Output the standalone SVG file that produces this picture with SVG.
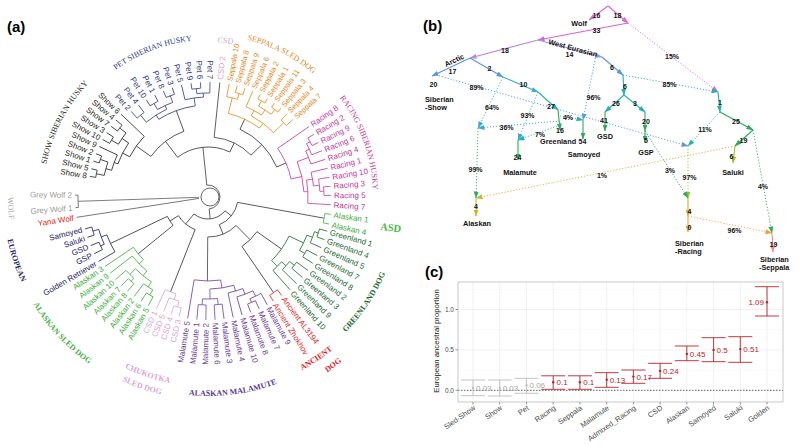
<svg xmlns="http://www.w3.org/2000/svg" xmlns:xlink="http://www.w3.org/1999/xlink" width="800" height="446" viewBox="0 0 800 446">
<style>
text{font-family:"Liberation Sans",Arial,sans-serif}
.tr path,.tr circle{fill:none;stroke-width:.75}
.tr text{stroke:none;font-size:8px}
.tr .s75 text{font-size:7.5px}
.L{text-anchor:end}
.gl{font-family:"Liberation Serif","Times New Roman",serif;stroke:none}
.b{font-weight:bold}
.pl{font-size:15px;font-weight:bold;fill:#000}
.e{fill:none;stroke-width:1.1}
.d{fill:none;stroke-width:.9;stroke-dasharray:1.2 1.8}
.bt{font-size:7px;font-weight:bold;fill:#111;text-anchor:middle}
.bn{font-size:7.3px;font-weight:bold;fill:#111}
.ax{font-size:6.5px;fill:#4d4d4d}
.xl{font-size:7.5px;fill:#4d4d4d;text-anchor:end}
.v{font-size:8px}
</style>
<defs>
<path id="cw165" d="M165 0A165 165 0 1 1 -165 0A165 165 0 1 1 165 0"/>
<path id="cw157" d="M157 0A157 157 0 1 1 -157 0A157 157 0 1 1 157 0"/>
<path id="cw155" d="M155 0A155 155 0 1 1 -155 0A155 155 0 1 1 155 0"/>
<path id="cw162" d="M162 0A162 162 0 1 1 -162 0A162 162 0 1 1 162 0"/>
<path id="ccw193" d="M193 0A193 193 0 1 0 -193 0A193 193 0 1 0 193 0"/>
<path id="ccw197" d="M197 0A197 197 0 1 0 -197 0A197 197 0 1 0 197 0"/>
<path id="ccw212" d="M212 0A212 212 0 1 0 -212 0A212 212 0 1 0 212 0"/>
<path id="ccw199" d="M199 0A199 199 0 1 0 -199 0A199 199 0 1 0 199 0"/>
<path id="ccw190" d="M190 0A190 190 0 1 0 -190 0A190 190 0 1 0 190 0"/>
<path id="ccw203" d="M203 0A203 203 0 1 0 -203 0A203 203 0 1 0 203 0"/>
<path id="ccw205" d="M205 0A205 205 0 1 0 -205 0A205 205 0 1 0 205 0"/>
<path id="ccw200" d="M200 0A200 200 0 1 0 -200 0A200 200 0 1 0 200 0"/>
<marker id="a-pk" viewBox="0 0 7 5" refX="6.5" refY="2.5" markerWidth="7" markerHeight="5" markerUnits="userSpaceOnUse" orient="auto"><path d="M0 0L7 2.5L0 5z" fill="#d966d6"/></marker>
<marker id="a-lv" viewBox="0 0 7 5" refX="6.5" refY="2.5" markerWidth="7" markerHeight="5" markerUnits="userSpaceOnUse" orient="auto"><path d="M0 0L7 2.5L0 5z" fill="#b889e6"/></marker>
<marker id="a-lb" viewBox="0 0 7 5" refX="6.5" refY="2.5" markerWidth="7" markerHeight="5" markerUnits="userSpaceOnUse" orient="auto"><path d="M0 0L7 2.5L0 5z" fill="#8f9ae6"/></marker>
<marker id="a-bl" viewBox="0 0 7 5" refX="6.5" refY="2.5" markerWidth="7" markerHeight="5" markerUnits="userSpaceOnUse" orient="auto"><path d="M0 0L7 2.5L0 5z" fill="#5c95e0"/></marker>
<marker id="a-cy" viewBox="0 0 7 5" refX="6.5" refY="2.5" markerWidth="7" markerHeight="5" markerUnits="userSpaceOnUse" orient="auto"><path d="M0 0L7 2.5L0 5z" fill="#3aa9d6"/></marker>
<marker id="a-tl" viewBox="0 0 7 5" refX="6.5" refY="2.5" markerWidth="7" markerHeight="5" markerUnits="userSpaceOnUse" orient="auto"><path d="M0 0L7 2.5L0 5z" fill="#22b3a6"/></marker>
<marker id="a-gr" viewBox="0 0 7 5" refX="6.5" refY="2.5" markerWidth="7" markerHeight="5" markerUnits="userSpaceOnUse" orient="auto"><path d="M0 0L7 2.5L0 5z" fill="#2eab5a"/></marker>
<marker id="a-yg" viewBox="0 0 7 5" refX="6.5" refY="2.5" markerWidth="7" markerHeight="5" markerUnits="userSpaceOnUse" orient="auto"><path d="M0 0L7 2.5L0 5z" fill="#a3bd2a"/></marker>
<marker id="a-ye" viewBox="0 0 7 5" refX="6.5" refY="2.5" markerWidth="7" markerHeight="5" markerUnits="userSpaceOnUse" orient="auto"><path d="M0 0L7 2.5L0 5z" fill="#d8b21c"/></marker>
<marker id="a-or" viewBox="0 0 7 5" refX="6.5" refY="2.5" markerWidth="7" markerHeight="5" markerUnits="userSpaceOnUse" orient="auto"><path d="M0 0L7 2.5L0 5z" fill="#eba33c"/></marker>
<marker id="a-sa" viewBox="0 0 7 5" refX="6.5" refY="2.5" markerWidth="7" markerHeight="5" markerUnits="userSpaceOnUse" orient="auto"><path d="M0 0L7 2.5L0 5z" fill="#f08a8a"/></marker>
<marker id="a-ol" viewBox="0 0 7 5" refX="6.5" refY="2.5" markerWidth="7" markerHeight="5" markerUnits="userSpaceOnUse" orient="auto"><path d="M0 0L7 2.5L0 5z" fill="#c9b23a"/></marker>
</defs>
<rect width="800" height="446" fill="#fff"/>
<text class="pl" x="7" y="32">(a)</text>
<text class="pl" x="423" y="31">(b)</text>
<text class="pl" x="425" y="277">(c)</text>

<g id="panel-a" class="tr" transform="translate(208 197)">
<g id="backbone" stroke="#333">
<circle r="9" cx="2"/>
<circle r="70" pathLength="360" stroke-dasharray="34.45 999" transform="rotate(-144.6)"/>
<path transform="rotate(-127.4)" d="M50 0H70"/>
<circle r="75" pathLength="360" stroke-dasharray="41.15 999" transform="rotate(-64.75)"/>
<path transform="rotate(-44.2)" d="M60 0H75"/>
<circle r="60" pathLength="360" stroke-dasharray="39.9 999" transform="rotate(-84.1)"/>
<path transform="rotate(-64.15)" d="M50 0H60"/>
<circle r="50" pathLength="360" stroke-dasharray="63.25 999" transform="rotate(-127.4)"/>
<path transform="rotate(-95.8)" d="M12 0H50"/>
<path transform="rotate(-144.6)" d="M70 0H88"/>
<path transform="rotate(-110.15)" d="M70 0H92"/>
<path transform="rotate(-64.75)" d="M75 0H86"/>
<path transform="rotate(-23.6)" d="M75 0H85"/>
<path transform="rotate(-84.1)" d="M60 0H115"/>
<path transform="rotate(10.35)" d="M30 0H118"/>
<path transform="rotate(35.3)" d="M60 0H90"/>
<path transform="rotate(55.55)" d="M60 0H116"/>
<circle r="60" pathLength="360" stroke-dasharray="20.25 999" transform="rotate(35.3)"/>
<path transform="rotate(45.4)" d="M40 0H60"/>
<path transform="rotate(90.4)" d="M40 0H84"/>
<circle r="40" pathLength="360" stroke-dasharray="45 999" transform="rotate(45.4)"/>
<path transform="rotate(67.9)" d="M30 0H40"/>
<circle r="30" pathLength="360" stroke-dasharray="57.55 999" transform="rotate(10.35)"/>
<path transform="rotate(39.1)" d="M22 0H30"/>
<path transform="rotate(111.55)" d="M35 0H102"/>
<path transform="rotate(140.9)" d="M45 0H90"/>
<path transform="rotate(154.5)" d="M45 0H108"/>
<circle r="45" pathLength="360" stroke-dasharray="13.6 999" transform="rotate(140.9)"/>
<path transform="rotate(147.7)" d="M35 0H45"/>
<circle r="35" pathLength="360" stroke-dasharray="36.15 999" transform="rotate(111.55)"/>
<path transform="rotate(129.6)" d="M22 0H35"/>
<circle r="22" pathLength="360" stroke-dasharray="90.5 999" transform="rotate(39.1)"/>
<path transform="rotate(84.35)" d="M12 0H22"/>
<circle r="12" pathLength="360" stroke-dasharray="180.15 999" transform="rotate(-95.8)"/>
</g>

<g id="clade-wolf" stroke="#555" fill="#9a9a9a">
<path transform="rotate(178.1)" d="M9 0H130"/>
<path transform="rotate(171.2)" d="M9 0H133"/>
<circle r="130" pathLength="360" stroke-dasharray="5.4 999" transform="rotate(175.4)"/>
<path transform="rotate(180.8)" d="M130 0H133"/>
<path transform="rotate(175.4)" d="M130 0H133"/>
<text class="L" transform="rotate(0.8)" x="-136" y="2.8">Grey Wolf 2</text>
<text class="L" transform="rotate(-4.6)" x="-136" y="2.8">Grey Wolf 1</text>
<text class="L" transform="rotate(-8.8)" x="-136" y="2.8" fill="#e2231a">Yana Wolf</text>
</g>

<g id="clade-show" stroke="#231f20" fill="#231f20">
<path transform="rotate(-136.4)" d="M88 0H120"/>
<path transform="rotate(-140.1)" d="M112 0H120"/>
<path transform="rotate(-143.9)" d="M112 0H120"/>
<path transform="rotate(-147.6)" d="M112 0H120"/>
<path transform="rotate(-151.4)" d="M112 0H120"/>
<path transform="rotate(-155.1)" d="M100 0H120"/>
<path transform="rotate(-158.9)" d="M114 0H120"/>
<path transform="rotate(-162.6)" d="M114 0H120"/>
<path transform="rotate(-166.4)" d="M114 0H120"/>
<path transform="rotate(-170.1)" d="M114 0H120"/>
<path transform="rotate(-142)" d="M104 0H112"/>
<path transform="rotate(-149.5)" d="M104 0H112"/>
<path transform="rotate(-160.75)" d="M106 0H114"/>
<path transform="rotate(-168.25)" d="M106 0H114"/>
<path transform="rotate(-145.75)" d="M96 0H104"/>
<path transform="rotate(-164.5)" d="M100 0H106"/>
<path transform="rotate(-159.8)" d="M96 0H100"/>
<path transform="rotate(-152.8)" d="M88 0H96"/>
<circle r="112" pathLength="360" stroke-dasharray="3.8 999" transform="rotate(-143.9)"/>
<circle r="112" pathLength="360" stroke-dasharray="3.8 999" transform="rotate(-151.4)"/>
<circle r="114" pathLength="360" stroke-dasharray="3.7 999" transform="rotate(-162.6)"/>
<circle r="114" pathLength="360" stroke-dasharray="3.7 999" transform="rotate(-170.1)"/>
<circle r="104" pathLength="360" stroke-dasharray="7.5 999" transform="rotate(-149.5)"/>
<circle r="106" pathLength="360" stroke-dasharray="7.5 999" transform="rotate(-168.25)"/>
<circle r="100" pathLength="360" stroke-dasharray="9.4 999" transform="rotate(-164.5)"/>
<circle r="96" pathLength="360" stroke-dasharray="14.05 999" transform="rotate(-159.8)"/>
<circle r="88" pathLength="360" stroke-dasharray="16.4 999" transform="rotate(-152.8)"/>
<text class="L" transform="rotate(43.6)" x="-123" y="2.8">Show 6</text>
<text class="L" transform="rotate(39.9)" x="-123" y="2.8">Show 4</text>
<text class="L" transform="rotate(36.1)" x="-123" y="2.8">Show 7</text>
<text class="L" transform="rotate(32.4)" x="-123" y="2.8">Show 3</text>
<text class="L" transform="rotate(28.6)" x="-123" y="2.8">Show 10</text>
<text class="L" transform="rotate(24.9)" x="-123" y="2.8">Show 9</text>
<text class="L" transform="rotate(21.1)" x="-123" y="2.8">Show 2</text>
<text class="L" transform="rotate(17.4)" x="-123" y="2.8">Show 1</text>
<text class="L" transform="rotate(13.6)" x="-123" y="2.8">Show 5</text>
<text class="L" transform="rotate(9.9)" x="-123" y="2.8">Show 8</text>
</g>

<g id="clade-pet" stroke="#2e3a87" fill="#2e3a87">
<path transform="rotate(-131.9)" d="M106 0H115"/>
<path transform="rotate(-127.1)" d="M106 0H115"/>
<path transform="rotate(-122.4)" d="M108 0H115"/>
<path transform="rotate(-117.6)" d="M108 0H115"/>
<path transform="rotate(-112.8)" d="M108 0H115"/>
<path transform="rotate(-108.1)" d="M108 0H115"/>
<path transform="rotate(-103.3)" d="M100 0H115"/>
<path transform="rotate(-98.5)" d="M109 0H115"/>
<path transform="rotate(-93.8)" d="M109 0H115"/>
<path transform="rotate(-89)" d="M104 0H115"/>
<path transform="rotate(-129.5)" d="M97 0H106"/>
<path transform="rotate(-120)" d="M101 0H108"/>
<path transform="rotate(-110.45)" d="M101 0H108"/>
<path transform="rotate(-96.15)" d="M104 0H109"/>
<path transform="rotate(-92.6)" d="M100 0H104"/>
<path transform="rotate(-97.95)" d="M92 0H100"/>
<path transform="rotate(-115.2)" d="M97 0H101"/>
<path transform="rotate(-122.35)" d="M92 0H97"/>
<circle r="106" pathLength="360" stroke-dasharray="4.8 999" transform="rotate(-131.9)"/>
<circle r="108" pathLength="360" stroke-dasharray="4.8 999" transform="rotate(-122.4)"/>
<circle r="108" pathLength="360" stroke-dasharray="4.7 999" transform="rotate(-112.8)"/>
<circle r="109" pathLength="360" stroke-dasharray="4.7 999" transform="rotate(-98.5)"/>
<circle r="104" pathLength="360" stroke-dasharray="7.15 999" transform="rotate(-96.15)"/>
<circle r="100" pathLength="360" stroke-dasharray="10.7 999" transform="rotate(-103.3)"/>
<circle r="101" pathLength="360" stroke-dasharray="9.55 999" transform="rotate(-120)"/>
<circle r="97" pathLength="360" stroke-dasharray="14.3 999" transform="rotate(-129.5)"/>
<circle r="92" pathLength="360" stroke-dasharray="24.4 999" transform="rotate(-122.35)"/>
<text class="L" transform="rotate(48.1)" x="-118" y="2.8">Pet 2</text>
<text class="L" transform="rotate(52.9)" x="-118" y="2.8">Pet 4</text>
<text class="L" transform="rotate(57.6)" x="-118" y="2.8">Pet 10</text>
<text class="L" transform="rotate(62.4)" x="-118" y="2.8">Pet 1</text>
<text class="L" transform="rotate(67.2)" x="-118" y="2.8">Pet 8</text>
<text class="L" transform="rotate(71.9)" x="-118" y="2.8">Pet 3</text>
<text class="L" transform="rotate(76.7)" x="-118" y="2.8">Pet 5</text>
<text class="L" transform="rotate(81.5)" x="-118" y="2.8">Pet 9</text>
<text class="L" transform="rotate(86.2)" x="-118" y="2.8">Pet 6</text>
<text class="L" transform="rotate(91)" x="-118" y="2.8">Pet 7</text>
</g>

<g id="clade-csd2" fill="#d7a6d4">
<text transform="rotate(-84.1)" x="118" y="2.8">CSD 2</text>
</g>

<g id="clade-seppala" class="s75" stroke="#e18b1c" fill="#e18b1c">
<path transform="rotate(-79.4)" d="M102 0H115"/>
<path transform="rotate(-75.3)" d="M108 0H115"/>
<path transform="rotate(-71.2)" d="M108 0H115"/>
<path transform="rotate(-67.1)" d="M98 0H115"/>
<path transform="rotate(-63)" d="M110 0H115"/>
<path transform="rotate(-58.8)" d="M110 0H115"/>
<path transform="rotate(-54.7)" d="M110 0H115"/>
<path transform="rotate(-50.6)" d="M110 0H115"/>
<path transform="rotate(-46.5)" d="M106 0H115"/>
<path transform="rotate(-42.4)" d="M106 0H115"/>
<path transform="rotate(-73.25)" d="M102 0H108"/>
<path transform="rotate(-76.3)" d="M86 0H102"/>
<path transform="rotate(-60.9)" d="M104 0H110"/>
<path transform="rotate(-52.65)" d="M104 0H110"/>
<path transform="rotate(-56.8)" d="M98 0H104"/>
<path transform="rotate(-61.95)" d="M92 0H98"/>
<path transform="rotate(-44.45)" d="M92 0H106"/>
<path transform="rotate(-53.2)" d="M86 0H92"/>
<circle r="108" pathLength="360" stroke-dasharray="4.1 999" transform="rotate(-75.3)"/>
<circle r="102" pathLength="360" stroke-dasharray="6.15 999" transform="rotate(-79.4)"/>
<circle r="110" pathLength="360" stroke-dasharray="4.2 999" transform="rotate(-63)"/>
<circle r="110" pathLength="360" stroke-dasharray="4.1 999" transform="rotate(-54.7)"/>
<circle r="104" pathLength="360" stroke-dasharray="8.25 999" transform="rotate(-60.9)"/>
<circle r="98" pathLength="360" stroke-dasharray="10.3 999" transform="rotate(-67.1)"/>
<circle r="106" pathLength="360" stroke-dasharray="4.1 999" transform="rotate(-46.5)"/>
<circle r="92" pathLength="360" stroke-dasharray="17.5 999" transform="rotate(-61.95)"/>
<circle r="86" pathLength="360" stroke-dasharray="23.1 999" transform="rotate(-76.3)"/>
<text transform="rotate(-79.4)" x="118" y="2.6">Seppala 10</text>
<text transform="rotate(-75.3)" x="118" y="2.6">Seppala 8</text>
<text transform="rotate(-71.2)" x="118" y="2.6">Seppala 9</text>
<text transform="rotate(-67.1)" x="118" y="2.6">Seppala 6</text>
<text transform="rotate(-63)" x="118" y="2.6">Seppala 2</text>
<text transform="rotate(-58.8)" x="118" y="2.6">Seppala 1</text>
<text transform="rotate(-54.7)" x="118" y="2.6">Seppala 11</text>
<text transform="rotate(-50.6)" x="118" y="2.6">Seppala 3</text>
<text transform="rotate(-46.5)" x="118" y="2.6">Seppala 4</text>
<text transform="rotate(-42.4)" x="118" y="2.6">Seppala 7</text>
</g>

<g id="clade-racing" stroke="#c0399a" fill="#c0399a">
<path transform="rotate(-34.9)" d="M85 0H123"/>
<path transform="rotate(-30.6)" d="M116 0H123"/>
<path transform="rotate(-26.3)" d="M116 0H123"/>
<path transform="rotate(-22.1)" d="M112 0H123"/>
<path transform="rotate(-17.8)" d="M108 0H123"/>
<path transform="rotate(-13.5)" d="M106 0H123"/>
<path transform="rotate(-9.2)" d="M112 0H123"/>
<path transform="rotate(-5)" d="M116 0H123"/>
<path transform="rotate(-0.7)" d="M116 0H123"/>
<path transform="rotate(3.6)" d="M100 0H123"/>
<path transform="rotate(-28.45)" d="M112 0H116"/>
<path transform="rotate(-25.3)" d="M108 0H112"/>
<path transform="rotate(-21.55)" d="M96 0H108"/>
<path transform="rotate(-2.85)" d="M112 0H116"/>
<path transform="rotate(-6)" d="M106 0H112"/>
<path transform="rotate(-9.75)" d="M100 0H106"/>
<path transform="rotate(-3.1)" d="M96 0H100"/>
<path transform="rotate(-12.3)" d="M85 0H96"/>
<circle r="116" pathLength="360" stroke-dasharray="4.3 999" transform="rotate(-30.6)"/>
<circle r="112" pathLength="360" stroke-dasharray="6.35 999" transform="rotate(-28.45)"/>
<circle r="108" pathLength="360" stroke-dasharray="7.5 999" transform="rotate(-25.3)"/>
<circle r="116" pathLength="360" stroke-dasharray="4.3 999" transform="rotate(-5)"/>
<circle r="112" pathLength="360" stroke-dasharray="6.35 999" transform="rotate(-9.2)"/>
<circle r="106" pathLength="360" stroke-dasharray="7.5 999" transform="rotate(-13.5)"/>
<circle r="100" pathLength="360" stroke-dasharray="13.35 999" transform="rotate(-9.75)"/>
<circle r="96" pathLength="360" stroke-dasharray="18.45 999" transform="rotate(-21.55)"/>
<circle r="85" pathLength="360" stroke-dasharray="22.6 999" transform="rotate(-34.9)"/>
<text transform="rotate(-34.9)" x="126" y="2.8">Racing 8</text>
<text transform="rotate(-30.6)" x="126" y="2.8">Racing 2</text>
<text transform="rotate(-26.3)" x="126" y="2.8">Racing 9</text>
<text transform="rotate(-22.1)" x="126" y="2.8">Racing 6</text>
<text transform="rotate(-17.8)" x="126" y="2.8">Racing 4</text>
<text transform="rotate(-13.5)" x="126" y="2.8">Racing 1</text>
<text transform="rotate(-9.2)" x="126" y="2.8">Racing 10</text>
<text transform="rotate(-5)" x="126" y="2.8">Racing 3</text>
<text transform="rotate(-0.7)" x="126" y="2.8">Racing 5</text>
<text transform="rotate(3.6)" x="126" y="2.8">Racing 7</text>
</g>

<g id="clade-asd" stroke="#3cae3c" fill="#3cae3c">
<path transform="rotate(8.1)" d="M118 0H124"/>
<path transform="rotate(12.6)" d="M118 0H124"/>
<circle r="118" pathLength="360" stroke-dasharray="4.5 999" transform="rotate(8.1)"/>
<text transform="rotate(8.1)" x="127" y="2.8">Alaskan 1</text>
<text transform="rotate(12.6)" x="127" y="2.8">Alaskan 4</text>
</g>

<g id="clade-greenland" stroke="#1c6b31" fill="#1c6b31">
<path transform="rotate(16)" d="M116 0H124"/>
<path transform="rotate(20.1)" d="M116 0H124"/>
<path transform="rotate(24.1)" d="M112 0H124"/>
<path transform="rotate(28.2)" d="M112 0H124"/>
<path transform="rotate(32.3)" d="M112 0H124"/>
<path transform="rotate(36.3)" d="M110 0H124"/>
<path transform="rotate(40.4)" d="M110 0H124"/>
<path transform="rotate(44.4)" d="M104 0H124"/>
<path transform="rotate(48.5)" d="M98 0H124"/>
<path transform="rotate(18.05)" d="M112 0H116"/>
<path transform="rotate(21.1)" d="M106 0H112"/>
<path transform="rotate(30.25)" d="M106 0H112"/>
<path transform="rotate(25.7)" d="M90 0H106"/>
<path transform="rotate(38.35)" d="M104 0H110"/>
<path transform="rotate(41.4)" d="M98 0H104"/>
<path transform="rotate(44.95)" d="M90 0H98"/>
<circle r="116" pathLength="360" stroke-dasharray="4.1 999" transform="rotate(16)"/>
<circle r="112" pathLength="360" stroke-dasharray="6.05 999" transform="rotate(18.05)"/>
<circle r="112" pathLength="360" stroke-dasharray="4.1 999" transform="rotate(28.2)"/>
<circle r="106" pathLength="360" stroke-dasharray="9.15 999" transform="rotate(21.1)"/>
<circle r="110" pathLength="360" stroke-dasharray="4.1 999" transform="rotate(36.3)"/>
<circle r="104" pathLength="360" stroke-dasharray="6.05 999" transform="rotate(38.35)"/>
<circle r="98" pathLength="360" stroke-dasharray="7.1 999" transform="rotate(41.4)"/>
<circle r="90" pathLength="360" stroke-dasharray="19.25 999" transform="rotate(25.7)"/>
<text transform="rotate(16)" x="127" y="2.8">Greenland 1</text>
<text transform="rotate(20.1)" x="127" y="2.8">Greenland 4</text>
<text transform="rotate(24.1)" x="127" y="2.8">Greenland 5</text>
<text transform="rotate(28.2)" x="127" y="2.8">Greenland 7</text>
<text transform="rotate(32.3)" x="127" y="2.8">Greenland 8</text>
<text transform="rotate(36.3)" x="127" y="2.8">Greenland 2</text>
<text transform="rotate(40.4)" x="127" y="2.8">Greenland 3</text>
<text transform="rotate(44.4)" x="127" y="2.8">Greenland 9</text>
<text transform="rotate(48.5)" x="127" y="2.8">Greenland 10</text>
</g>

<g id="clade-ancient" stroke="#e2231a" fill="#e2231a">
<path transform="rotate(53.2)" d="M116 0H123"/>
<path transform="rotate(57.9)" d="M116 0H123"/>
<circle r="116" pathLength="360" stroke-dasharray="4.7 999" transform="rotate(53.2)"/>
<text transform="rotate(53.2)" x="126" y="2.8">Ancient AL3194</text>
<text transform="rotate(57.9)" x="126" y="2.8">Ancient Zhokhov</text>
</g>

<g id="clade-malamute" stroke="#6a3d9a" fill="#6a3d9a">
<path transform="rotate(99.5)" d="M84 0H123"/>
<path transform="rotate(95.2)" d="M108 0H123"/>
<path transform="rotate(91)" d="M108 0H123"/>
<path transform="rotate(86.7)" d="M108 0H123"/>
<path transform="rotate(82.5)" d="M108 0H123"/>
<path transform="rotate(78.2)" d="M98 0H123"/>
<path transform="rotate(73.9)" d="M104 0H123"/>
<path transform="rotate(69.7)" d="M114 0H123"/>
<path transform="rotate(65.4)" d="M114 0H123"/>
<path transform="rotate(61.2)" d="M110 0H123"/>
<path transform="rotate(93.1)" d="M102 0H108"/>
<path transform="rotate(84.6)" d="M102 0H108"/>
<path transform="rotate(88.85)" d="M92 0H102"/>
<path transform="rotate(67.55)" d="M110 0H114"/>
<path transform="rotate(64.4)" d="M104 0H110"/>
<path transform="rotate(69.15)" d="M98 0H104"/>
<path transform="rotate(73.7)" d="M92 0H98"/>
<path transform="rotate(81.3)" d="M84 0H92"/>
<circle r="108" pathLength="360" stroke-dasharray="4.2 999" transform="rotate(91)"/>
<circle r="108" pathLength="360" stroke-dasharray="4.2 999" transform="rotate(82.5)"/>
<circle r="102" pathLength="360" stroke-dasharray="8.5 999" transform="rotate(84.6)"/>
<circle r="114" pathLength="360" stroke-dasharray="4.3 999" transform="rotate(65.4)"/>
<circle r="110" pathLength="360" stroke-dasharray="6.35 999" transform="rotate(61.2)"/>
<circle r="104" pathLength="360" stroke-dasharray="9.5 999" transform="rotate(64.4)"/>
<circle r="98" pathLength="360" stroke-dasharray="9.05 999" transform="rotate(69.15)"/>
<circle r="92" pathLength="360" stroke-dasharray="15.15 999" transform="rotate(73.7)"/>
<circle r="84" pathLength="360" stroke-dasharray="18.2 999" transform="rotate(81.3)"/>
<text class="L" transform="rotate(-80.5)" x="-126" y="2.8">Malamute 5</text>
<text class="L" transform="rotate(-84.8)" x="-126" y="2.8">Malamute 1</text>
<text class="L" transform="rotate(-89)" x="-126" y="2.8">Malamute 2</text>
<text transform="rotate(86.7)" x="126" y="2.8">Malamute 6</text>
<text transform="rotate(82.5)" x="126" y="2.8">Malamute 3</text>
<text transform="rotate(78.2)" x="126" y="2.8">Malamute 4</text>
<text transform="rotate(73.9)" x="126" y="2.8">Malamute 10</text>
<text transform="rotate(69.7)" x="126" y="2.8">Malamute 8</text>
<text transform="rotate(65.4)" x="126" y="2.8">Malamute 7</text>
<text transform="rotate(61.2)" x="126" y="2.8">Malamute 9</text>
</g>

<g id="clade-csd" stroke="#d7a6d4" fill="#d7a6d4">
<path transform="rotate(114.8)" d="M102 0H123"/>
<path transform="rotate(111.1)" d="M108 0H123"/>
<path transform="rotate(107.4)" d="M114 0H123"/>
<path transform="rotate(103.6)" d="M114 0H123"/>
<path transform="rotate(105.5)" d="M108 0H114"/>
<path transform="rotate(108.3)" d="M102 0H108"/>
<circle r="114" pathLength="360" stroke-dasharray="3.8 999" transform="rotate(103.6)"/>
<circle r="108" pathLength="360" stroke-dasharray="5.6 999" transform="rotate(105.5)"/>
<circle r="102" pathLength="360" stroke-dasharray="6.5 999" transform="rotate(108.3)"/>
<text class="L" transform="rotate(-65.2)" x="-126" y="2.8">CSD 1</text>
<text class="L" transform="rotate(-68.9)" x="-126" y="2.8">CSD 5</text>
<text class="L" transform="rotate(-72.6)" x="-126" y="2.8">CSD 4</text>
<text class="L" transform="rotate(-76.4)" x="-126" y="2.8">CSD 3</text>
</g>

<g id="clade-alaskan" stroke="#3cae3c" fill="#3cae3c">
<path transform="rotate(146)" d="M90 0H124"/>
<path transform="rotate(142.1)" d="M96 0H124"/>
<path transform="rotate(138.2)" d="M110 0H124"/>
<path transform="rotate(134.3)" d="M114 0H124"/>
<path transform="rotate(130.5)" d="M114 0H124"/>
<path transform="rotate(126.6)" d="M108 0H124"/>
<path transform="rotate(122.7)" d="M114 0H124"/>
<path transform="rotate(118.8)" d="M114 0H124"/>
<path transform="rotate(132.4)" d="M110 0H114"/>
<path transform="rotate(135.3)" d="M102 0H110"/>
<path transform="rotate(120.75)" d="M108 0H114"/>
<path transform="rotate(123.7)" d="M102 0H108"/>
<path transform="rotate(129.5)" d="M96 0H102"/>
<path transform="rotate(135.8)" d="M90 0H96"/>
<circle r="114" pathLength="360" stroke-dasharray="3.8 999" transform="rotate(130.5)"/>
<circle r="110" pathLength="360" stroke-dasharray="5.8 999" transform="rotate(132.4)"/>
<circle r="114" pathLength="360" stroke-dasharray="3.9 999" transform="rotate(118.8)"/>
<circle r="108" pathLength="360" stroke-dasharray="5.85 999" transform="rotate(120.75)"/>
<circle r="102" pathLength="360" stroke-dasharray="11.6 999" transform="rotate(123.7)"/>
<circle r="96" pathLength="360" stroke-dasharray="12.6 999" transform="rotate(129.5)"/>
<circle r="90" pathLength="360" stroke-dasharray="10.2 999" transform="rotate(135.8)"/>
<text class="L" transform="rotate(-34)" x="-127" y="2.8">Alaskan 3</text>
<text class="L" transform="rotate(-37.9)" x="-127" y="2.8">Alaskan 9</text>
<text class="L" transform="rotate(-41.8)" x="-127" y="2.8">Alaskan 10</text>
<text class="L" transform="rotate(-45.7)" x="-127" y="2.8">Alaskan 7</text>
<text class="L" transform="rotate(-49.5)" x="-127" y="2.8">Alaskan 8</text>
<text class="L" transform="rotate(-53.4)" x="-127" y="2.8">Alaskan 2</text>
<text class="L" transform="rotate(-57.3)" x="-127" y="2.8">Alaskan 6</text>
<text class="L" transform="rotate(-61.2)" x="-127" y="2.8">Alaskan 5</text>
</g>

<g id="clade-european" stroke="#1e2266" fill="#1e2266">
<path transform="rotate(165.5)" d="M120 0H127"/>
<path transform="rotate(161.5)" d="M120 0H127"/>
<path transform="rotate(157.5)" d="M118 0H127"/>
<path transform="rotate(153.5)" d="M118 0H127"/>
<path transform="rotate(149.5)" d="M108 0H127"/>
<path transform="rotate(163.5)" d="M114 0H120"/>
<path transform="rotate(155.5)" d="M114 0H118"/>
<path transform="rotate(159.5)" d="M108 0H114"/>
<circle r="120" pathLength="360" stroke-dasharray="4 999" transform="rotate(161.5)"/>
<circle r="118" pathLength="360" stroke-dasharray="4 999" transform="rotate(153.5)"/>
<circle r="114" pathLength="360" stroke-dasharray="8 999" transform="rotate(155.5)"/>
<circle r="108" pathLength="360" stroke-dasharray="10 999" transform="rotate(149.5)"/>
<text class="L" transform="rotate(-30.5)" x="-130" y="2.8">Golden Retriever</text>
<text class="L" transform="rotate(-26.5)" x="-130" y="2.8">GSP</text>
<text class="L" transform="rotate(-22.5)" x="-130" y="2.8">GSD</text>
<text class="L" transform="rotate(-18.5)" x="-130" y="2.8">Saluki</text>
<text class="L" transform="rotate(-14.5)" x="-130" y="2.8">Samoyed</text>
</g>

<g id="group-labels">
<text class="gl" transform="rotate(-168.5)" font-size="10" fill="#231f20"><textPath href="#cw165" xlink:href="#cw165">SHOW SIBERIAN HUSKY</textPath></text>
<text class="gl" transform="rotate(-126)" font-size="10" fill="#2e3a87"><textPath href="#cw157" xlink:href="#cw157">PET SIBERIAN HUSKY</textPath></text>
<text class="gl" transform="rotate(-86.5)" font-size="10" fill="#d7a6d4"><textPath href="#cw155" xlink:href="#cw155">CSD</textPath></text>
<text class="gl" transform="rotate(-76)" font-size="10" fill="#e18b1c"><textPath href="#cw162" xlink:href="#cw162">SEPPALA SLED DOG</textPath></text>
<text class="gl" transform="rotate(-37)" font-size="9.8" fill="#c0399a"><textPath href="#cw165" xlink:href="#cw165">RACING SIBERIAN HUSKY</textPath></text>
<text class="gl b" transform="rotate(44.5)" font-size="10.5" fill="#1c6b31"><textPath href="#ccw193" xlink:href="#ccw193">GREENLAND DOG</textPath></text>
<text class="gl b" transform="rotate(61.5)" font-size="10" fill="#e2231a"><textPath href="#ccw197" xlink:href="#ccw197">ANCIENT</textPath></text>
<text class="gl b" transform="rotate(55.8)" font-size="10" fill="#e2231a"><textPath href="#ccw212" xlink:href="#ccw212">DOG</textPath></text>
<text class="gl b" transform="rotate(95.5)" font-size="10.2" fill="#5b3a8e"><textPath href="#ccw199" xlink:href="#ccw199">ALASKAN MALAMUTE</textPath></text>
<text class="gl b" transform="rotate(116)" font-size="10" fill="#d8a6d6"><textPath href="#ccw190" xlink:href="#ccw190">CHUKOTKA</textPath></text>
<text class="gl b" transform="rotate(115)" font-size="10" fill="#d8a6d6"><textPath href="#ccw203" xlink:href="#ccw203">SLED DOG</textPath></text>
<text class="gl b" transform="rotate(148.5)" font-size="10.5" fill="#47ae47"><textPath href="#ccw205" xlink:href="#ccw205">ALASKAN SLED DOG</textPath></text>
<text class="gl b" transform="rotate(168)" font-size="10.3" fill="#1e2266"><textPath href="#ccw205" xlink:href="#ccw205">EUROPEAN</textPath></text>
<text class="gl" transform="rotate(180)" font-size="10.6" fill="#a8a8a8"><textPath href="#ccw200" xlink:href="#ccw200">WOLF</textPath></text>
</g>
</g>
<text class="gl b" x="380" y="230" font-size="10.5" fill="#4cb748" transform="rotate(6 380 230)">ASD</text>

<g id="panel-b">
<g id="connectors">
<path class="e" stroke="#d966d6" marker-end="url(#a-pk)" d="M608 6L589 20"/>
<path class="e" stroke="#d966d6" marker-end="url(#a-pk)" d="M608 6L628 23"/>
<path class="e" stroke="#d966d6" marker-end="url(#a-pk)" d="M628 23L538 40"/>
<path class="e" stroke="#b889e6" marker-end="url(#a-lv)" d="M538 40L470 58"/>
<path class="e" stroke="#8f9ae6" marker-end="url(#a-lb)" d="M538 40L602 57"/>
<path class="e" stroke="#5c95e0" marker-end="url(#a-bl)" d="M470 58L432 76"/>
<path class="e" stroke="#5c95e0" marker-end="url(#a-bl)" d="M470 58L503 77"/>
<path class="e" stroke="#3aa9d6" marker-end="url(#a-cy)" d="M503 77L538 92"/>
<path class="e" stroke="#22b3a6" marker-end="url(#a-tl)" d="M538 92L558 110"/>
<path class="e" stroke="#2eab5a" marker-end="url(#a-gr)" d="M558 110L560 130"/>
<path class="e" stroke="#5c95e0" marker-end="url(#a-bl)" d="M602 57L623 75"/>
<path class="e" stroke="#22b3a6" marker-end="url(#a-tl)" d="M623 75L624 95"/>
<path class="e" stroke="#22b3a6" marker-end="url(#a-tl)" d="M624 95L605 112"/>
<path class="e" stroke="#2eab5a" marker-end="url(#a-gr)" d="M605 112L605 131"/>
<path class="e" stroke="#22b3a6" marker-end="url(#a-tl)" d="M624 95L645 112"/>
<path class="e" stroke="#2eab5a" marker-end="url(#a-gr)" d="M645 112L645 131"/>
<path class="e" stroke="#2eab5a" marker-end="url(#a-gr)" d="M645 131L645 142"/>
<path class="e" stroke="#2eab5a" marker-end="url(#a-gr)" d="M583 120L583 139"/>
<path class="e" stroke="#2eab5a" marker-end="url(#a-gr)" d="M518 140L518 160"/>
<path class="e" stroke="#d8b21c" marker-end="url(#a-ye)" d="M476 198L476 216"/>
<path class="e" stroke="#22b3a6" marker-end="url(#a-tl)" d="M718 92L720 112"/>
<path class="e" stroke="#2eab5a" marker-end="url(#a-gr)" d="M720 112L753 130"/>
<path class="e" stroke="#2eab5a" marker-end="url(#a-gr)" d="M753 130L735 146"/>
<path class="e" stroke="#a3bd2a" marker-end="url(#a-yg)" d="M735 146L733 163"/>
<path class="e" stroke="#d8b21c" marker-end="url(#a-ye)" d="M688 198L688 216"/>
<path class="e" stroke="#eba33c" marker-end="url(#a-or)" d="M688 216L688 232"/>
<path class="e" stroke="#f08a8a" marker-end="url(#a-sa)" d="M772 233L773 252"/>
<path class="d" stroke="#d966d6" marker-end="url(#a-pk)" d="M628 23L718 92"/>
<path class="d" stroke="#22b3a6" marker-end="url(#a-tl)" d="M623 75L718 92"/>
<path class="d" stroke="#3aa9d6" marker-end="url(#a-bl)" d="M596 55L583 120"/>
<path class="d" stroke="#22b3a6" marker-end="url(#a-tl)" d="M560 116L583 120"/>
<path class="d" stroke="#3aa9d6" marker-end="url(#a-cy)" d="M538 92L518 140"/>
<path class="d" stroke="#22b3a6" marker-end="url(#a-tl)" d="M560 125L518 140"/>
<path class="d" stroke="#3aa9d6" marker-end="url(#a-cy)" d="M503 77L478 128"/>
<path class="d" stroke="#3aa9d6" marker-end="url(#a-cy)" d="M560 121L478 128"/>
<path class="d" stroke="#2eab5a" marker-end="url(#a-gr)" d="M478 128L476 198"/>
<path class="d" stroke="#c9b23a" marker-end="url(#a-ol)" d="M735 146L476 198"/>
<path class="d" stroke="#4a9ad8" marker-end="url(#a-bl)" d="M436 75L688 146"/>
<path class="d" stroke="#22b3a6" marker-end="url(#a-tl)" d="M720 112L688 146"/>
<path class="d" stroke="#a3bd2a" marker-end="url(#a-yg)" d="M688 146L688 198"/>
<path class="d" stroke="#2eab5a" marker-end="url(#a-gr)" d="M645 131L688 198"/>
<path class="d" stroke="#eba33c" marker-end="url(#a-or)" d="M688 216L772 233"/>
<path class="d" stroke="#2eab5a" marker-end="url(#a-gr)" d="M753 130L772 233"/>
</g>
<g id="b-labels">
<text class="bn" x="587" y="25.5" text-anchor="end" font-size="7.5">Wolf</text>
<text class="bt" x="596.5" y="17.5">16</text>
<text class="bt" x="617.5" y="17.5">18</text>
<text class="bt" x="596.5" y="32.5">33</text>
<text class="bt" x="505" y="53">18</text>
<text class="bn" transform="translate(548 44) rotate(15)" font-size="8">West Eurasian</text>
<text class="bt" x="569.5" y="56.5">14</text>
<text class="bn" transform="translate(446 67) rotate(-25)" font-size="8">Arctic</text>
<text class="bt" x="452.5" y="73.5">17</text>
<text class="bt" x="433.5" y="86.5">20</text>
<text class="bn" x="425" y="102">Siberian</text>
<text class="bn" x="425" y="110">-Show</text>
<text class="bt" x="489.5" y="71">2</text>
<text class="bt" x="523.5" y="87">10</text>
<text class="bt" x="551" y="108.5">27</text>
<text class="bt" x="560" y="133">16</text>
<text class="bn" x="540" y="143.5">Greenland</text>
<text class="bt" x="612" y="69.5">6</text>
<text class="bt" x="625" y="89">6</text>
<text class="bt" x="616" y="106">26</text>
<text class="bt" x="635" y="106">3</text>
<text class="bt" x="604" y="123">41</text>
<text class="bn" x="605" y="138.5" text-anchor="middle">GSD</text>
<text class="bt" x="646" y="124">20</text>
<text class="bt" x="646" y="143">5</text>
<text class="bn" x="646" y="155" text-anchor="middle">GSP</text>
<text class="bt" x="582.5" y="143.5">54</text>
<text class="bn" x="584" y="156.5" text-anchor="middle">Samoyed</text>
<text class="bt" x="593.5" y="99.5">96%</text>
<text class="bt" x="568" y="120">4%</text>
<text class="bt" x="527.5" y="117.5">93%</text>
<text class="bt" x="540" y="137">7%</text>
<text class="bt" x="492" y="110">64%</text>
<text class="bt" x="506.5" y="130">36%</text>
<text class="bt" x="476.5" y="90">89%</text>
<text class="bt" x="517.5" y="160">24</text>
<text class="bn" x="520" y="174.5" text-anchor="middle">Malamute</text>
<text class="bt" x="475.5" y="172">99%</text>
<text class="bt" x="476" y="208.5">4</text>
<text class="bn" x="477" y="225.5" text-anchor="middle">Alaskan</text>
<text class="bt" x="602" y="177.5">1%</text>
<text class="bt" x="672" y="59">15%</text>
<text class="bt" x="669.5" y="87">85%</text>
<text class="bt" x="720" y="104.5">1</text>
<text class="bt" x="736" y="123.5">25</text>
<text class="bt" x="705" y="132">11%</text>
<text class="bt" x="743.5" y="143">19</text>
<text class="bt" x="731.5" y="159">6</text>
<text class="bn" x="733" y="175" text-anchor="middle">Saluki</text>
<text class="bt" x="670" y="172.5">3%</text>
<text class="bt" x="689.5" y="180">97%</text>
<text class="bt" x="689.5" y="213.5">4</text>
<text class="bt" x="689.5" y="230">0</text>
<text class="bn" x="675" y="246">Siberian</text>
<text class="bn" x="675" y="254">-Racing</text>
<text class="bt" x="734.5" y="232.5">96%</text>
<text class="bt" x="763" y="188.5">4%</text>
<text class="bt" x="773.5" y="247">19</text>
<text class="bn" x="760" y="262">Siberian</text>
<text class="bn" x="759" y="270">-Seppala</text>
</g>
</g>

<g id="panel-c">
<rect x="458" y="282" width="325" height="120" fill="#fff"/>
<g stroke="#f3f3f3" stroke-width=".4">
<path d="M458 370.1H783M458 329.7H783M458 289.3H783"/>
</g>
<g stroke="#e8e8e8" stroke-width=".6">
<path d="M458 390.3H783M458 349.9H783M458 309.5H783"/>
<path d="M473 282V402M499.7 282V402M526.5 282V402M553.2 282V402M579.9 282V402M606.7 282V402M633.4 282V402M660.1 282V402M686.8 282V402M713.6 282V402M740.3 282V402M767 282V402"/>
</g>
<path d="M458 390.3H783" stroke="#333" stroke-width=".7" stroke-dasharray="1.5 1.5"/>
<rect x="458" y="282" width="325" height="120" fill="none" stroke="#b3b3b3" stroke-width=".7"/>
<g stroke="#555" stroke-width=".6">
<path d="M455.5 390.3H458M455.5 349.9H458M455.5 309.5H458"/>
<path d="M473 402V404.5M499.7 402V404.5M526.5 402V404.5M553.2 402V404.5M579.9 402V404.5M606.7 402V404.5M633.4 402V404.5M660.1 402V404.5M686.8 402V404.5M713.6 402V404.5M740.3 402V404.5M767 402V404.5"/>
</g>
<text class="ax" x="454" y="392.5" text-anchor="end">0.0</text>
<text class="ax" x="454" y="352.1" text-anchor="end">0.5</text>
<text class="ax" x="454" y="311.7" text-anchor="end">1.0</text>
<text x="439" y="341" font-size="7.7" fill="#222" text-anchor="middle" transform="rotate(-90 439 341)">European ancestral proportion</text>
<g id="c-xlabels">
<text class="xl" transform="translate(476 409) rotate(-35)">Sled-Show</text>
<text class="xl" transform="translate(502.7 409) rotate(-35)">Show</text>
<text class="xl" transform="translate(529.5 409) rotate(-35)">Pet</text>
<text class="xl" transform="translate(556.2 409) rotate(-35)">Racing</text>
<text class="xl" transform="translate(582.9 409) rotate(-35)">Seppala</text>
<text class="xl" transform="translate(609.7 409) rotate(-35)">Malamute</text>
<text class="xl" transform="translate(636.4 409) rotate(-35)">Admixed_Racing</text>
<text class="xl" transform="translate(663.1 409) rotate(-35)">CSD</text>
<text class="xl" transform="translate(689.8 409) rotate(-35)">Alaskan</text>
<text class="xl" transform="translate(716.6 409) rotate(-35)">Samoyed</text>
<text class="xl" transform="translate(743.3 409) rotate(-35)">Saluki</text>
<text class="xl" transform="translate(770 409) rotate(-35)">Golden</text>
</g>
<g id="c-bars-grey" stroke="#bdbdbd" stroke-width=".9" fill="#bdbdbd">
<path fill="none" d="M461 380H485M473 380V395.7M461 395.7H485"/>
<path fill="none" d="M487.7 380H511.7M499.7 380V396M487.7 396H511.7"/>
<path fill="none" d="M514.5 378.3H538.5M526.5 378.3V393.3M514.5 393.3H538.5"/>
<circle cx="473" cy="387.9" r="1.2" stroke="none"/>
<circle cx="499.7" cy="387.9" r="1.2" stroke="none"/>
<circle cx="526.5" cy="385.5" r="1.2" stroke="none"/>
<text class="v" x="476" y="390.8" stroke="none" fill="#a8a8a8">0.03</text>
<text class="v" x="502.7" y="390.8" stroke="none" fill="#a8a8a8">0.03</text>
<text class="v" x="529.5" y="388.4" stroke="none" fill="#a8a8a8">0.06</text>
</g>
<g id="c-bars-red" stroke="#b8252c" stroke-width=".9" fill="#b8252c">
<path fill="none" d="M541.2 375.8H565.2M553.2 375.8V389.3M541.2 389.3H565.2"/>
<path fill="none" d="M567.9 375.8H591.9M579.9 375.8V389.3M567.9 389.3H591.9"/>
<path fill="none" d="M594.7 372.7H618.7M606.7 372.7V387.3M594.7 387.3H618.7"/>
<path fill="none" d="M621.4 370H645.4M633.4 370V383.3M621.4 383.3H645.4"/>
<path fill="none" d="M648.1 363.3H672.1M660.1 363.3V378.3M648.1 378.3H672.1"/>
<path fill="none" d="M674.8 346H698.8M686.8 346V360.7M674.8 360.7H698.8"/>
<path fill="none" d="M701.6 337.7H725.6M713.6 337.7V361.7M701.6 361.7H725.6"/>
<path fill="none" d="M728.3 336.7H752.3M740.3 336.7V362.3M728.3 362.3H752.3"/>
<path fill="none" d="M755 286.7H779M767 286.7V316M755 316H779"/>
<circle cx="553.2" cy="382.2" r="1.2" stroke="none"/>
<circle cx="579.9" cy="382.2" r="1.2" stroke="none"/>
<circle cx="606.7" cy="379.8" r="1.2" stroke="none"/>
<circle cx="633.4" cy="376.6" r="1.2" stroke="none"/>
<circle cx="660.1" cy="370.9" r="1.2" stroke="none"/>
<circle cx="686.8" cy="353.9" r="1.2" stroke="none"/>
<circle cx="713.6" cy="349.9" r="1.2" stroke="none"/>
<circle cx="740.3" cy="349.1" r="1.2" stroke="none"/>
<circle cx="767" cy="302.2" r="1.2" stroke="none"/>
<text class="v" x="556.5" y="385.1" stroke="none">0.1</text>
<text class="v" x="583.2" y="385.1" stroke="none">0.1</text>
<text class="v" x="609.7" y="382.7" stroke="none">0.13</text>
<text class="v" x="636.4" y="379.5" stroke="none">0.17</text>
<text class="v" x="663.1" y="373.8" stroke="none">0.24</text>
<text class="v" x="689.8" y="356.8" stroke="none">0.45</text>
<text class="v" x="716.6" y="352.8" stroke="none">0.5</text>
<text class="v" x="743.3" y="352" stroke="none">0.51</text>
<text class="v" x="764" y="305.1" stroke="none" text-anchor="end">1.09</text>
</g>
</g>
</svg>
